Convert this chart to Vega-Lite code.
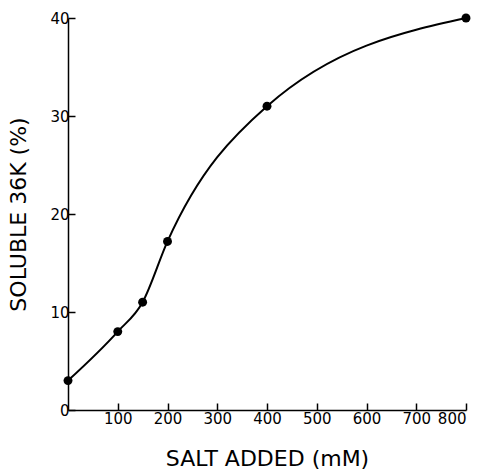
{
  "$schema": "https://vega.github.io/schema/vega-lite/v6.json",
  "width": 398,
  "height": 392,
  "autosize": "none",
  "padding": {"left": 68, "top": 18, "right": 17, "bottom": 63},
  "background": "white",
  "config": {
    "view": {"stroke": null},
    "axis": {
      "grid": false,
      "domainColor": "black",
      "domainWidth": 1.5,
      "tickColor": "black",
      "tickWidth": 1.5,
      "labelColor": "black",
      "titleColor": "black",
      "labelFont": "DejaVu Sans",
      "titleFont": "DejaVu Sans",
      "labelFontSize": 15,
      "titleFontSize": 22,
      "titleFontWeight": "normal"
    }
  },
  "data": {
    "values": [
      {"salt": 0, "soluble": 3},
      {"salt": 100, "soluble": 8},
      {"salt": 150, "soluble": 11},
      {"salt": 200, "soluble": 17.2},
      {"salt": 400, "soluble": 31},
      {"salt": 800, "soluble": 40}
    ]
  },
  "encoding": {
    "x": {
      "field": "salt",
      "type": "quantitative",
      "scale": {"domain": [0, 800], "nice": false},
      "axis": {
        "title": "SALT ADDED (mM)",
        "values": [100, 200, 300, 400, 500, 600, 700, 800],
        "tickSize": -7,
        "labelPadding": 8,
        "titlePadding": 22
      }
    },
    "y": {
      "field": "soluble",
      "type": "quantitative",
      "scale": {"domain": [0, 40], "nice": false},
      "axis": {
        "title": "SOLUBLE 36K (%)",
        "values": [0, 10, 20, 30, 40],
        "tickSize": -7,
        "labelPadding": 6,
        "titlePadding": 19
      }
    }
  },
  "layer": [
    {"mark": {"type": "line", "interpolate": "monotone", "color": "black", "strokeWidth": 2}},
    {"mark": {"type": "point", "filled": true, "color": "black", "size": 80, "opacity": 1}}
  ]
}
